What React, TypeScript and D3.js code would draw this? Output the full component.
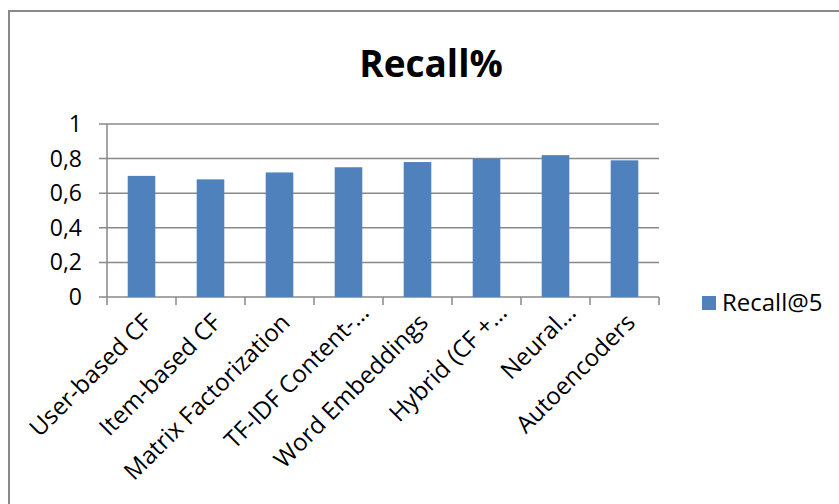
import * as React from 'react';
import { useEffect, useRef } from 'react';
import * as d3 from 'd3';

const categories = [
  'User-based CF',
  'Item-based CF',
  'Matrix Factorization',
  'TF-IDF Content-…',
  'Word Embeddings',
  'Hybrid (CF +…',
  'Neural…',
  'Autoencoders',
];
const recallAt5 = [0.7, 0.68, 0.72, 0.75, 0.78, 0.8, 0.82, 0.79];
const yTicks = [0, 0.2, 0.4, 0.6, 0.8, 1];
const seriesName = 'Recall@5';
const chartTitle = 'Recall%';

const WIDTH = 839;
const HEIGHT = 504;
const FONT = "'Open Sans', 'Noto Sans', sans-serif";
const BAR = '#4f81bd';
const GRID = '#898989';

const App: React.FC = () => {
  const svgRef = useRef<SVGSVGElement>(null);

  useEffect(() => {
    if (!svgRef.current) return;
    const svg = d3.select(svgRef.current);
    svg.selectAll('*').remove();

    const plot = { left: 107, right: 659, top: 124, bottom: 297 };

    const x = d3.scaleBand<string>()
      .domain(categories)
      .range([plot.left, plot.right])
      .paddingInner(0.6)
      .paddingOuter(0.3);

    const y = d3.scaleLinear()
      .domain([0, 1])
      .range([plot.bottom, plot.top]);

    // outer chart border
    svg.append('rect')
      .attr('x', 9).attr('y', 11)
      .attr('width', WIDTH).attr('height', HEIGHT)
      .attr('fill', 'none')
      .attr('stroke', GRID)
      .attr('stroke-width', 2);

    svg.append('text')
      .attr('x', 431).attr('y', 77)
      .attr('text-anchor', 'middle')
      .attr('font-family', FONT)
      .attr('font-weight', 700)
      .attr('font-size', 37)
      .attr('fill', '#000')
      .text(chartTitle);

    // gridlines + outer ticks on the value axis
    svg.append('g')
      .selectAll('line')
      .data(yTicks)
      .enter()
      .append('line')
      .attr('x1', plot.left - 8)
      .attr('x2', plot.right)
      .attr('y1', d => y(d))
      .attr('y2', d => y(d))
      .attr('stroke', GRID)
      .attr('stroke-width', 1.5);

    svg.append('g')
      .selectAll('text')
      .data(yTicks)
      .enter()
      .append('text')
      .attr('x', 82)
      .attr('y', d => y(d))
      .attr('dy', '0.35em')
      .attr('text-anchor', 'end')
      .attr('font-family', FONT)
      .attr('font-size', 23)
      .attr('fill', '#000')
      .text(d => String(d).replace('.', ','));

    // bars
    svg.append('g')
      .selectAll('rect')
      .data(recallAt5)
      .enter()
      .append('rect')
      .attr('x', (_, i) => x(categories[i]) as number)
      .attr('y', d => y(d))
      .attr('width', x.bandwidth())
      .attr('height', d => plot.bottom - y(d))
      .attr('fill', BAR);

    // value axis line
    svg.append('line')
      .attr('x1', plot.left).attr('x2', plot.left)
      .attr('y1', plot.top).attr('y2', plot.bottom)
      .attr('stroke', GRID).attr('stroke-width', 1.5);

    // category tick marks at band edges
    const bounds = d3.range(categories.length + 1).map(i => plot.left + i * x.step());
    svg.append('g')
      .selectAll('line')
      .data(bounds)
      .enter()
      .append('line')
      .attr('x1', d => d).attr('x2', d => d)
      .attr('y1', plot.bottom).attr('y2', plot.bottom + 8)
      .attr('stroke', GRID).attr('stroke-width', 1.5);

    // rotated category labels (truncated ones sit a bit further along)
    svg.append('g')
      .selectAll('text')
      .data(categories)
      .enter()
      .append('text')
      .attr('transform', d => {
        const cx = (x(d) as number) + x.bandwidth() / 2;
        return `translate(${cx + 12},${plot.bottom + 27}) rotate(-45)`;
      })
      .attr('dx', d => (d.endsWith('…') ? 14 : 0))
      .attr('text-anchor', 'end')
      .attr('font-family', FONT)
      .attr('font-size', 24)
      .attr('fill', '#000')
      .text(d => d);

    // legend
    const lg = svg.append('g').attr('transform', 'translate(702,296)');
    lg.append('rect')
      .attr('width', 14).attr('height', 14)
      .attr('fill', BAR);
    lg.append('text')
      .attr('x', 20).attr('y', 7)
      .attr('dy', '0.35em')
      .attr('font-family', FONT)
      .attr('font-size', 24)
      .attr('fill', '#000')
      .text(seriesName);
  }, []);

  return (
    <div style={{ position: 'absolute', left: 0, top: 0, width: WIDTH, height: HEIGHT, background: '#fff' }}>
      <svg ref={svgRef} width={WIDTH} height={HEIGHT} viewBox={`0 0 ${WIDTH} ${HEIGHT}`} style={{ display: 'block' }} />
    </div>
  );
};

export default App;
